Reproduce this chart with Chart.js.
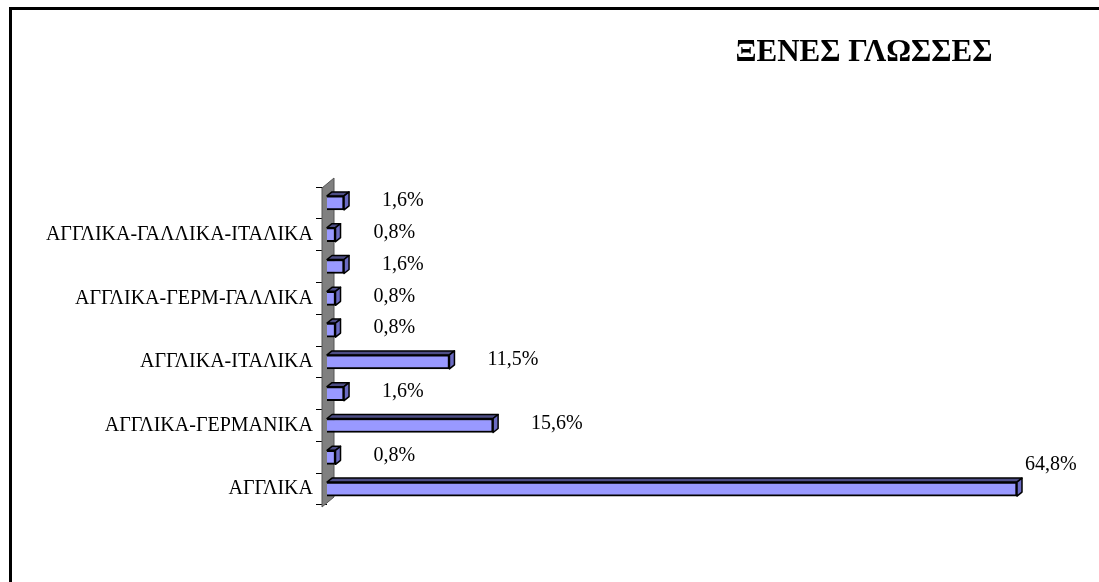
<!DOCTYPE html>
<html>
<head>
<meta charset="utf-8">
<script src="https://cdn.jsdelivr.net/npm/chart.js@4"></script>
<style>
  body { margin: 0; background: #fff; }
  canvas { display: block; }
</style>
</head>
<body>
<canvas id="grafico" width="1099" height="582"></canvas>
<script>
// categorias de baixo para cima (as vazias não aparecem no original)
let categorias = [
    "ΑΓΓΛΙΚΑ", "",
    "ΑΓΓΛΙΚΑ-ΓΕΡΜΑΝΙΚΑ", "",
    "ΑΓΓΛΙΚΑ-ΙΤΑΛΙΚΑ", "",
    "ΑΓΓΛΙΚΑ-ΓΕΡΜ-ΓΑΛΛΙΚΑ", "",
    "ΑΓΓΛΙΚΑ-ΓΑΛΛΙΚΑ-ΙΤΑΛΙΚΑ", ""
];
let percentagens = [64.8, 0.8, 15.6, 1.6, 11.5, 0.8, 0.8, 1.6, 0.8, 1.6];
let titulo = "ΞΕΝΕΣ ΓΛΩΣΣΕΣ";

const fonte = "'Liberation Serif', 'Times New Roman', serif";
const DX = 5, DY = 4;   // profundidade 3D

// moldura, título, parede e faces 3D
const efeito3D = {
    id: "efeito3D",
    beforeDraw(chart) {
        const ctx = chart.ctx;
        ctx.save();
        ctx.fillStyle = "#000";
        ctx.fillRect(9, 7, chart.width, 3);
        ctx.fillRect(9, 7, 3, chart.height);
        ctx.font = "bold 31px " + fonte;
        ctx.textAlign = "center";
        ctx.textBaseline = "middle";
        ctx.fillText(titulo, 864, 53);
        ctx.restore();
    },
    beforeDatasetsDraw(chart) {
        const ctx = chart.ctx;
        const a = chart.chartArea;
        const x0 = a.left - 5;
        ctx.save();
        // parede
        ctx.fillStyle = "#808080";
        ctx.strokeStyle = "#555";
        ctx.lineWidth = 1;
        ctx.beginPath();
        ctx.moveTo(x0, a.bottom + 2);
        ctx.lineTo(x0, a.top + 1);
        ctx.lineTo(x0 + 12, a.top - 9);
        ctx.lineTo(x0 + 12, a.bottom - 8);
        ctx.closePath();
        ctx.fill();
        ctx.stroke();

        // faces de cima e do lado
        const meta = chart.getDatasetMeta(0);
        ctx.strokeStyle = "#000";
        ctx.lineWidth = 1.5;
        ctx.lineJoin = "round";
        meta.data.forEach((bar) => {
            const l = bar.base, r = bar.x;
            const t = bar.y - bar.height / 2, b = bar.y + bar.height / 2;
            ctx.fillStyle = "#4d4d85";
            ctx.beginPath();
            ctx.moveTo(l, t);
            ctx.lineTo(l + DX, t - DY);
            ctx.lineTo(r + DX, t - DY);
            ctx.lineTo(r, t);
            ctx.closePath();
            ctx.fill();
            ctx.stroke();
            ctx.fillStyle = "#6b6bc2";
            ctx.beginPath();
            ctx.moveTo(r, t);
            ctx.lineTo(r + DX, t - DY);
            ctx.lineTo(r + DX, b - DY);
            ctx.lineTo(r, b);
            ctx.closePath();
            ctx.fill();
            ctx.stroke();
        });
        ctx.restore();
    },
    afterDatasetsDraw(chart) {
        const ctx = chart.ctx;
        const meta = chart.getDatasetMeta(0);
        ctx.save();
        ctx.font = "20px " + fonte;
        ctx.fillStyle = "#000";
        ctx.textBaseline = "middle";
        ctx.textAlign = "left";
        meta.data.forEach((bar, i) => {
            const txt = percentagens[i].toFixed(1).replace(".", ",") + "%";
            const w = ctx.measureText(txt).width;
            let x = bar.x + 38, y = bar.y - 2;
            if (x + w > chart.width - 10) {
                x = bar.x + 8;
                y = bar.y - 24;
            }
            ctx.fillText(txt, x, y);
        });
        ctx.restore();
    }
};

new Chart(document.getElementById("grafico"), {
    type: "bar",
    data: {
        labels: categorias,
        datasets: [{
            data: percentagens,
            backgroundColor: "#9999ff",
            borderColor: "#000",
            borderWidth: 2,
            barThickness: 14
        }]
    },
    options: {
        indexAxis: "y",
        responsive: false,
        animation: false,
        layout: { padding: { left: 0, right: 82, top: 187, bottom: 77 } },
        plugins: { legend: { display: false }, tooltip: { enabled: false } },
        scales: {
            x: { display: false, min: 0, max: 64.8 },
            y: {
                reverse: true,
                afterFit: (s) => { s.width = 327; },
                border: { display: false },
                grid: { drawOnChartArea: false, drawTicks: true, tickLength: 11, color: "#000", offset: true },
                ticks: { autoSkip: false, padding: 3, color: "#000", font: { family: fonte, size: 20 } }
            }
        }
    },
    plugins: [efeito3D]
});
</script>
</body>
</html>
